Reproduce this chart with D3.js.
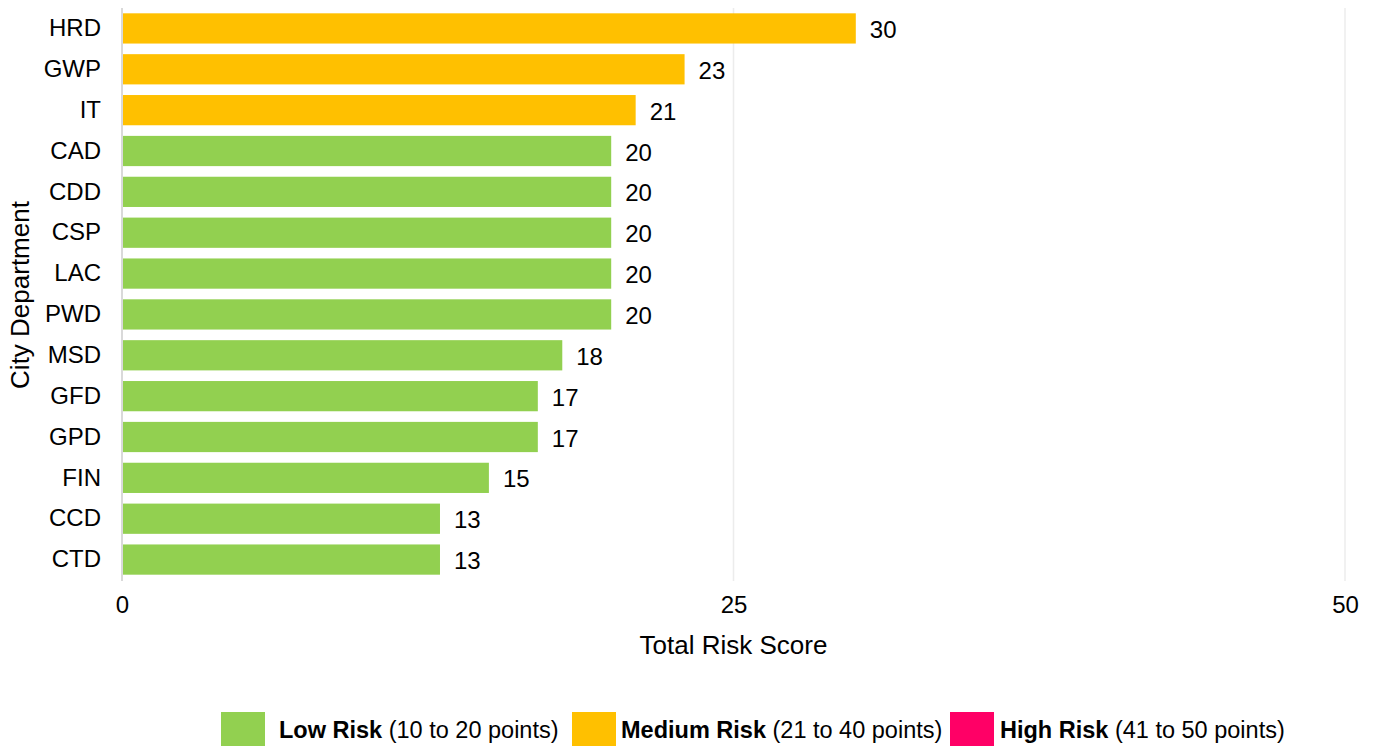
<!DOCTYPE html>
<html lang="en">
<head>
<meta charset="utf-8">
<title>City Department Risk Scores</title>
<script src="https://cdn.jsdelivr.net/npm/d3@7"></script>
<style>
  body { margin: 0; background: #fff; }
  text { font-family: "Liberation Sans", Arial, sans-serif; fill: #000; }
</style>
</head>
<body>
<script>
// data
var departments = ["HRD", "GWP", "IT", "CAD", "CDD", "CSP", "LAC", "PWD", "MSD", "GFD", "GPD", "FIN", "CCD", "CTD"];
var scores = [30, 23, 21, 20, 20, 20, 20, 20, 18, 17, 17, 15, 13, 13];
var xTicks = [0, 25, 50];
var riskNames = ["Low Risk", "Medium Risk", "High Risk"];
var riskRanges = ["(10 to 20 points)", "(21 to 40 points)", "(41 to 50 points)"];
var riskColors = ["#92D050", "#FFC000", "#FF0066"];

var w = 1373, h = 747;
var svg = d3.select("body").append("svg").attr("width", w).attr("height", h);

var xScale = d3.scaleLinear().domain([0, 50]).range([122, 1345]);
var yScale = d3.scaleBand().domain(departments).range([8, 580])
  .paddingInner(0.26).paddingOuter(0.13);

function riskColor(v) {
  if (v <= 20) return riskColors[0];
  if (v <= 40) return riskColors[1];
  return riskColors[2];
}

// gridlines
svg.selectAll("line.grid")
  .data(xTicks)
  .enter()
  .append("line")
  .attr("class", "grid")
  .attr("x1", function(d) { return xScale(d); })
  .attr("x2", function(d) { return xScale(d); })
  .attr("y1", 8)
  .attr("y2", 581)
  .attr("stroke", function(d) { return d === 0 ? "#d9d9d9" : "#ececec"; })
  .attr("stroke-width", function(d) { return d === 0 ? 2 : 1.5; });

// bars
svg.selectAll("rect.bar")
  .data(scores)
  .enter()
  .append("rect")
  .attr("class", "bar")
  .attr("x", xScale(0) + 1)
  .attr("y", function(d, i) { return yScale(departments[i]); })
  .attr("width", function(d) { return xScale(d) - xScale(0) - 1; })
  .attr("height", yScale.bandwidth())
  .attr("fill", riskColor);

// value labels
svg.selectAll("text.val")
  .data(scores)
  .enter()
  .append("text")
  .attr("class", "val")
  .attr("x", function(d) { return xScale(d) + 14; })
  .attr("y", function(d, i) { return yScale(departments[i]) + yScale.bandwidth() / 2 + 1; })
  .attr("dy", "0.36em")
  .attr("font-size", "24px")
  .text(function(d) { return d; });

// y axis
var yAxis = d3.axisLeft(yScale).tickSize(0).tickPadding(0);
var yg = svg.append("g").attr("transform", "translate(101,0)").call(yAxis);
yg.select(".domain").remove();
yg.selectAll("text").attr("font-size", "24px").attr("font-family", "Liberation Sans, Arial, sans-serif").attr("fill", "#000");

// x axis
var xAxis = d3.axisBottom(xScale).tickValues(xTicks).tickSize(0).tickPadding(0);
var xg = svg.append("g").attr("transform", "translate(0,596)").call(xAxis);
xg.select(".domain").remove();
xg.selectAll("text").attr("font-size", "24px").attr("font-family", "Liberation Sans, Arial, sans-serif").attr("fill", "#000");

// axis titles
svg.append("text")
  .attr("x", (xScale(0) + xScale(50)) / 2)
  .attr("y", 654)
  .attr("text-anchor", "middle")
  .attr("font-size", "26px")
  .text("Total Risk Score");

svg.append("text")
  .attr("transform", "translate(29,295) rotate(-90)")
  .attr("text-anchor", "middle")
  .attr("font-size", "26px")
  .text("City Department");

// legend
var legendX = [221, 572, 950];
var legendTextX = [58, 49, 50];
var legend = svg.selectAll("g.legend")
  .data(riskNames)
  .enter()
  .append("g")
  .attr("class", "legend")
  .attr("transform", function(d, i) { return "translate(" + legendX[i] + ",712)"; });

legend.append("rect")
  .attr("width", 44)
  .attr("height", 34)
  .attr("fill", function(d, i) { return riskColors[i]; });

var lt = legend.append("text")
  .attr("x", function(d, i) { return legendTextX[i]; })
  .attr("y", 18)
  .attr("dy", "0.36em")
  .attr("font-size", "23.5px");
lt.append("tspan").attr("font-weight", "bold").text(function(d) { return d; });
lt.append("tspan").text(function(d, i) { return " " + riskRanges[i]; });
</script>
</body>
</html>
